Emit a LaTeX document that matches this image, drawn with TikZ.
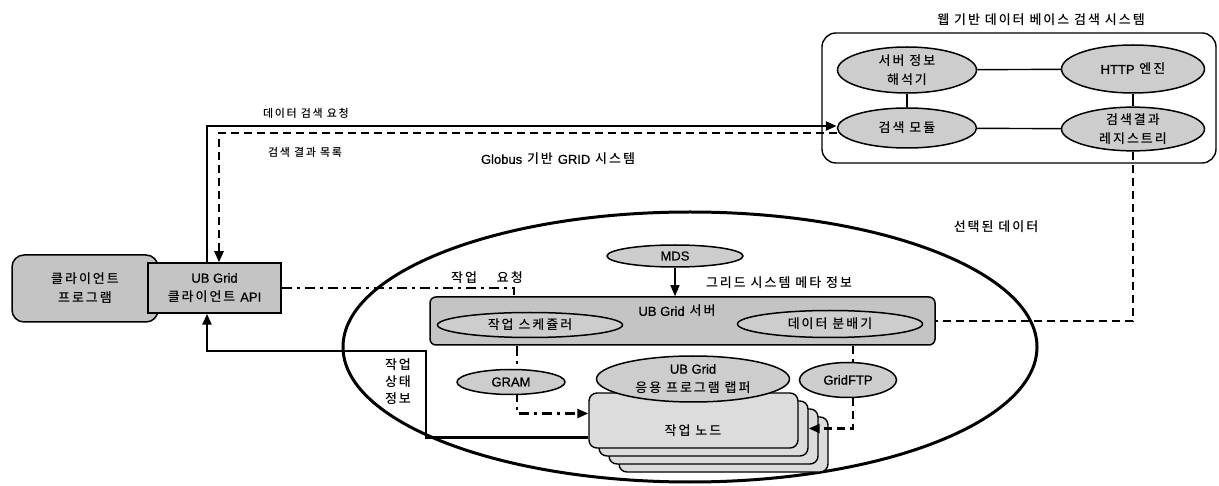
\documentclass[tikz,border=0pt]{standalone}
\usepackage{fontspec}
\setmainfont[LetterSpace=15]{Noto Sans CJK KR Medium}
\newfontfamily\lat[FakeBold=0.8]{Liberation Sans}
\usetikzlibrary{shapes.geometric,arrows.meta,calc,backgrounds}
\definecolor{boxgray}{HTML}{C4C4C4}
\definecolor{ellgray}{HTML}{CDCDCD}
\definecolor{nodegray}{HTML}{DCDCDC}
\begin{document}
\begin{tikzpicture}[x=1pt,y=-1pt,
  font=\fontsize{13}{19}\selectfont,
  small/.style={font=\fontsize{11}{15}\selectfont},
  gbox/.style={draw, line width=1.5pt, fill=boxgray, align=center, inner sep=0pt},
  ell/.style={ellipse, draw, line width=1.5pt, fill=ellgray, align=center, inner sep=0pt},
  wnode/.style={draw, line width=1.4pt, fill=nodegray, rounded corners=8pt, minimum width=209pt, minimum height=55pt, inner sep=0pt},
  lin/.style={line width=1.4pt},
  bold/.style={line width=2.4pt},
  arr/.style={-{Triangle[length=11pt,width=9pt]}},
  dsh/.style={dash pattern=on 8pt off 5pt},
  dshdot/.style={dash pattern=on 10pt off 5pt on 3pt off 5pt},
]
\useasboundingbox (0,0) rectangle (1219,486);

% client side
\node[gbox, rounded corners=12pt, minimum width=146pt, minimum height=67pt] (client) at (85,288.5) {클라이언트\\프로그램};
\node[gbox, minimum width=133pt, minimum height=50pt] (api) at (214.5,288) {{\lat UB Grid}\\클라이언트 {\lat API}};

% web based search system
\node[draw, line width=1.4pt, rounded corners=14pt, minimum width=394pt, minimum height=130pt] (web) at (1019,98) {};
\node (webt) at (1041,20) {웹 기반 데이터 베이스 검색 시스템};
\node[ell, minimum width=139pt, minimum height=46pt] (sinfo) at (907,70) {서버 정보\\해석기};
\node[ell, minimum width=143pt, minimum height=48pt] (http) at (1133,69) {{\lat HTTP} 엔진};
\node[ell, minimum width=139pt, minimum height=40pt] (srch) at (907,128) {검색 모듈};
\node[ell, minimum width=143pt, minimum height=40pt] (reg) at (1133,129) {검색결과\\레지스트리};

% Globus grid system
\node[draw, ellipse, line width=3pt, minimum width=694pt, minimum height=270pt] (globus) at (690,347) {};
\node (globt) at (558,159) {{\lat Globus} 기반 {\lat GRID} 시스템};
\node[ell, minimum width=136pt, minimum height=22pt] (mds) at (675,256) {\lat MDS};
\node[gbox, rounded corners=6pt, minimum width=505pt, minimum height=48pt] (srv) at (682.5,321) {};
\node (srvt) at (677,311) {{\lat UB Grid} 서버};
\node[ell, minimum width=185pt, minimum height=25pt] (sched) at (530,325) {작업 스케쥴러};
\node[ell, minimum width=185pt, minimum height=27pt] (dist) at (830,324) {데이터 분배기};
\node[ell, minimum width=108pt, minimum height=25pt] (gram) at (511,382) {\lat GRAM};

% work node stack
\node[wnode] (wn4) at (723.5,444.5) {};
\node[wnode] (wn3) at (713.5,436.5) {};
\node[wnode] (wn2) at (703.5,428.5) {};
\node[wnode] (wn1) at (693.5,420.5) {};
\node (wn1t) at (693,431) {작업 노드};
\node[ell, minimum width=193pt, minimum height=46pt] (wrap) at (693,379) {{\lat UB Grid}\\응용 프로그램 랩퍼};

% GridFTP data path (over the stack, under the GridFTP ellipse)
\draw[bold, dsh, arr] ($(srv.south east)+(-83,0)$) |- (wn2.east);
\node[ell, minimum width=97pt, minimum height=35pt] (gftp) at (848,380) {\lat GridFTP};

% labels
\node[small] (lreq) at (306,113) {데이터 검색 요청};
\node[small] (lres) at (305,152) {검색 결과 목록};
\node (ljob) at (487,278) {작업\hspace{20pt}요청};
\node (lmeta) at (779,283) {그리드 시스템 메타 정보};
\node (lsel) at (996,227) {선택된 데이터};
\node[font=\fontsize{13}{17}\selectfont, align=center] (lstat) at (398,382) {작업\\상태\\정보};

\coordinate (stb) at (426,351);

\begin{scope}[on background layer]
  \draw[lin] (sinfo) -- (http);
  \draw[lin] (sinfo) -- (srch);
  \draw[lin] (http) -- (reg);
  \draw[lin] (srch) -- (reg);
  \draw[bold, arr] ([xshift=-7.5pt]api.north) |- ([yshift=2pt]srch.west);
  \draw[bold, dsh, arr] ([yshift=-5pt]srch.west) -| ([xshift=4.5pt]api.north);
  \draw[bold, dshdot] (api.east) -| ($(srv.north west)+(85,0)$);
  \draw[bold, dsh] (reg.south) |- (srv.east);
  \draw[lin, arr] (mds.south) -- (mds.south |- srv.north);
  \draw[bold, arr] ([yshift=-17pt]wn1.west) -| (stb) -| ([xshift=-7.5pt]api.south);
  \draw[bold, dshdot, arr] ($(srv.south west)+(88,0)$) |- ([yshift=7pt]wn1.west);
\end{scope}
\end{tikzpicture}
\end{document}
